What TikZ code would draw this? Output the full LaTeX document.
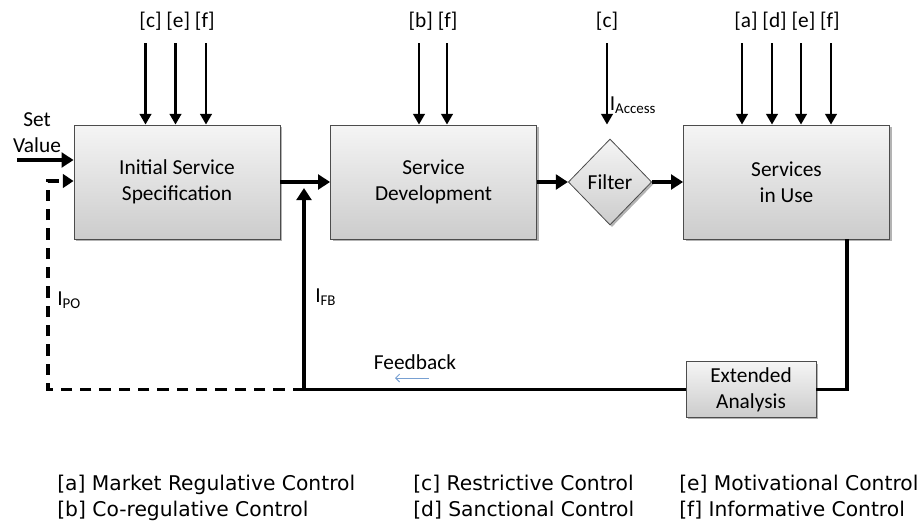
\documentclass[tikz,border=0pt]{standalone}
\usepackage{fontspec}
\setmainfont{Carlito}
\newfontfamily\legendfont{DejaVu Sans}
\usetikzlibrary{arrows.meta,shapes.geometric,shadows}

\definecolor{hintblue}{RGB}{120,160,210}

\tikzset{
    block/.style={draw=black!70, line width=0.6pt, top color=gray!8,
        bottom color=gray!40, align=center, inner sep=0pt,
        drop shadow={shadow xshift=1.5pt, shadow yshift=-1.5pt, opacity=0.6},
        font=\fontsize{16}{19.5}\selectfont},
    flow/.style={line width=2.8pt, -{Triangle[length=9pt,width=11pt]}},
    ctrl/.style={line width=2.2pt, -{Triangle[length=8pt,width=8.5pt]}},
    loop/.style={line width=2.8pt},
    plan/.style={line width=2.8pt, dash pattern=on 8.5pt off 6pt,
        -{Triangle[length=8pt,width=10pt]}},
    hint/.style={draw=hintblue, line width=0.7pt, -{Straight Barb[length=3pt]}},
    lbl/.style={font=\fontsize{16}{19.5}\selectfont, inner sep=0pt},
    legend/.style={font=\legendfont\fontsize{15.2}{18}\selectfont,
        anchor=base west, inner sep=0pt}
}

\begin{document}
\begin{tikzpicture}[x=0.75pt, y=-0.75pt]
    % Fix the page to the size of the reference
    \useasboundingbox (0,0) rectangle (921,525);

    % The four stages of the control loop
    \node[block, minimum width=154.5pt, minimum height=85.5pt] (iss) at (177,182)
        {Initial Service\\Specification};
    \node[block, minimum width=154.5pt, minimum height=85.5pt] (sd) at (433.5,182)
        {Service\\Development};
    \node[block, diamond, minimum width=62.5pt, minimum height=64.5pt] (filter)
        at (610,182) {Filter};
    \node[block, minimum width=154.5pt, minimum height=85.5pt] (siu) at (786.5,182)
        {Services\\in Use};
    \node[block, minimum width=97.5pt, minimum height=41.5pt] (ext) at (751,389.5)
        {Extended\\Analysis};

    % Main flow from left to right
    \node[lbl, align=center] (setval) at (37,133) {Set\\Value};
    \coordinate (svIn) at (17,160);
    \draw[flow] (svIn) -- (svIn -| iss.west);
    \draw[flow] (iss.east) -- (sd.west);
    \draw[flow] (sd.east) -- (filter.west);
    \draw[flow] (filter.east) -- (siu.west);

    % Control inputs from above, each with its legend letters
    \node[lbl] (cIss) at (177,21) {[c] [e] [f]};
    \foreach \x [count=\i] in {145.5,175.5,206} {
        \coordinate (issIn\i) at (\x,43);
        \draw[ctrl] (issIn\i) -- (issIn\i |- iss.north);
    }
    \node[lbl] (cSd) at (433,21) {[b] [f]};
    \foreach \x [count=\i] in {419,447} {
        \coordinate (sdIn\i) at (\x,43);
        \draw[ctrl] (sdIn\i) -- (sdIn\i |- sd.north);
    }
    \node[lbl] (cFilter) at (607,21) {[c]};
    \coordinate (accIn) at (607,43);
    \draw[ctrl] (accIn) -- node[pos=0.76, right=1pt, lbl] (acc) {I\textsubscript{Access}}
        (accIn |- siu.north);
    \node[lbl] (cSiu) at (787,21) {[a] [d] [e] [f]};
    \foreach \x [count=\i] in {742,772,801,831} {
        \coordinate (siuIn\i) at (\x,43);
        \draw[ctrl] (siuIn\i) -- (siuIn\i |- siu.north);
    }

    % Feedback loop back to the development stage
    \coordinate (siuOut) at (847,239);
    \coordinate (fbJoin) at (304,389.5);
    \draw[loop] (siuOut) |- (ext.east);
    \draw[loop] (ext.west) -- (fbJoin);
    \draw[flow, shorten >=4.5pt] (fbJoin) -- (fbJoin |- iss.east);
    \node[lbl, anchor=west] (ifb) at (315,297) {I\textsubscript{FB}};
    \node[lbl] (fbText) at (415,362) {Feedback};
    \coordinate (fbA) at (429,378);
    \coordinate (fbB) at (395,378);
    \draw[hint] (fbA) -- (fbB);

    % Dashed loop back to the specification
    \coordinate (poTop) at (48,181);
    \draw[plan] (fbJoin) -| (poTop) -- (poTop -| iss.west);
    \node[lbl, anchor=west] (ipo) at (57,300) {I\textsubscript{PO}};

    % Legend
    \node[legend] (la) at (57,490) {[a] Market Regulative Control};
    \node[legend] (lb) at (57,516) {[b] Co-regulative Control};
    \node[legend] (lc) at (413,490) {[c] Restrictive Control};
    \node[legend] (ld) at (413,516) {[d] Sanctional Control};
    \node[legend] (le) at (679,490) {[e] Motivational Control};
    \node[legend] (lf) at (679,516) {[f] Informative Control};
\end{tikzpicture}
\end{document}
